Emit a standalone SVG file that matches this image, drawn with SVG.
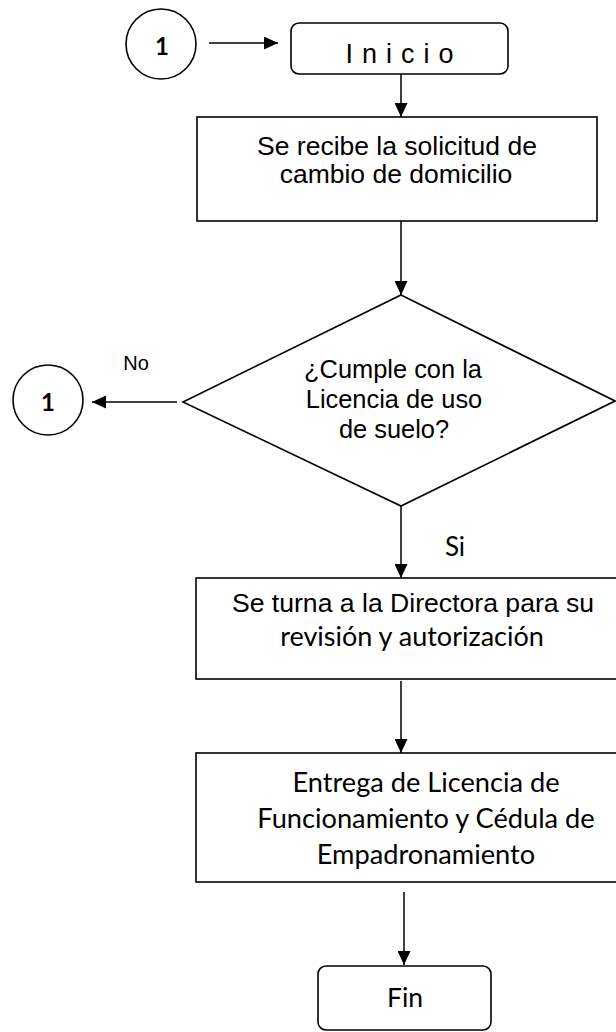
<svg xmlns="http://www.w3.org/2000/svg" width="616" height="1032" viewBox="0 0 616 1032">
<style>
.s{fill:none;stroke:#000;stroke-width:1.5}
.b{fill:#fff;stroke:#000;stroke-width:1.6}
.a{font-family:"Liberation Sans",Arial,sans-serif;fill:#000}
.c{font-family:Lato,"Open Sans",sans-serif;fill:#000}
</style>
<defs>
<marker id="ah" markerUnits="userSpaceOnUse" markerWidth="14" markerHeight="13" refX="14" refY="6.5" orient="auto">
<path d="M0,0 L14,6.5 L0,13 z" fill="#000"/>
</marker>
</defs>
<rect width="616" height="1032" fill="#fff"/>
<g id="connectors">
<line class="s" x1="209" y1="43" x2="278" y2="43" marker-end="url(#ah)"/>
<line class="s" x1="401" y1="74" x2="401" y2="117" marker-end="url(#ah)"/>
<line class="s" x1="401" y1="221" x2="401" y2="295" marker-end="url(#ah)"/>
<line class="s" x1="177" y1="402" x2="92" y2="402" marker-end="url(#ah)"/>
<line class="s" x1="401" y1="506" x2="401" y2="578" marker-end="url(#ah)"/>
<line class="s" x1="401" y1="681" x2="401" y2="753" marker-end="url(#ah)"/>
<line class="s" x1="404" y1="892" x2="404" y2="965" marker-end="url(#ah)"/>
<text class="a" x="136" y="370" font-size="20" text-anchor="middle">No</text>
<text class="c" x="455" y="556" font-size="26" text-anchor="middle">Si</text>
</g>
<g id="conn1top">
<circle class="b" cx="161" cy="44" r="35"/>
<text class="c" x="162" y="55" font-size="24" font-weight="bold" text-anchor="middle">1</text>
</g>
<g id="inicio">
<rect class="b" x="291" y="23" width="217" height="51" rx="8"/>
<text class="a" x="404" y="63" font-size="27" letter-spacing="9" text-anchor="middle">Inicio</text>
</g>
<g id="recibe">
<rect class="b" x="197" y="117" width="400" height="104"/>
<text class="a" font-size="26.5" text-anchor="middle"><tspan x="397" y="155">Se recibe la solicitud de</tspan><tspan x="396" y="183">cambio de domicilio</tspan></text>
</g>
<g id="decision">
<polygon class="b" points="401,295 615,401 401,506 183,402"/>
<text class="a" font-size="25.4" text-anchor="middle"><tspan x="393" y="378">¿Cumple con la</tspan><tspan x="394" y="408">Licencia de uso</tspan><tspan x="394" y="438">de suelo?</tspan></text>
</g>
<g id="conn1left">
<circle class="b" cx="48" cy="400" r="35"/>
<text class="c" x="48" y="411" font-size="24" font-weight="bold" text-anchor="middle">1</text>
</g>
<g id="turna">
<rect class="b" x="196" y="578" width="424" height="101"/>
<text class="a" font-size="26.6" x="413" y="611.5" text-anchor="middle">Se turna a la Directora para su</text>
<text class="c" font-size="27" x="412" y="646" text-anchor="middle">revisión y autorización</text>
</g>
<g id="entrega">
<rect class="b" x="196" y="753" width="424" height="129"/>
<text class="c" font-size="27.2" text-anchor="middle"><tspan x="426" y="792">Entrega de Licencia de</tspan><tspan x="426" y="828">Funcionamiento y Cédula de</tspan><tspan x="426" y="864">Empadronamiento</tspan></text>
</g>
<g id="fin">
<rect class="b" x="318" y="966" width="173" height="64" rx="8"/>
<text class="c" x="405" y="1007" font-size="26.5" text-anchor="middle">Fin</text>
</g>
</svg>
